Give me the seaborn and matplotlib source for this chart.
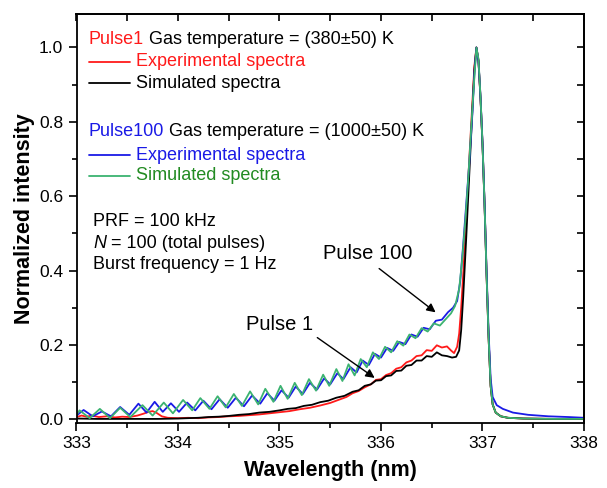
import matplotlib
matplotlib.use("Agg")
import matplotlib.pyplot as plt
import seaborn as sns
import pandas as pd
from matplotlib.ticker import MultipleLocator, NullFormatter

# ---------------- data ----------------
red_x = [333.00, 333.05, 333.10, 333.15, 333.22, 333.30, 333.38, 333.45, 333.52, 333.60,
         333.66, 333.71, 333.75, 333.79, 333.84, 333.90, 334.00, 334.10, 334.20, 334.30,
         334.40, 334.50, 334.60, 334.70, 334.80, 334.90, 335.00, 335.10, 335.20, 335.30,
         335.40, 335.50, 335.58, 335.66, 335.72, 335.78, 335.84, 335.90, 335.95, 336.00,
         336.05, 336.10, 336.15, 336.20, 336.25, 336.30, 336.35, 336.40, 336.45, 336.50,
         336.55, 336.60, 336.65, 336.69, 336.72, 336.75, 336.77, 336.79, 336.81, 336.84,
         336.87, 336.90, 336.92, 336.94, 336.96, 336.98, 337.00, 337.02, 337.04, 337.06,
         337.08, 337.10, 337.13, 337.18, 337.25, 337.40, 337.70, 338.00]
red_y = [0.006, 0.010, 0.007, 0.010, 0.006, 0.008, 0.005, 0.007, 0.006, 0.010,
         0.015, 0.020, 0.022, 0.017, 0.008, 0.004, 0.003, 0.004, 0.003, 0.005,
         0.006, 0.008, 0.009, 0.011, 0.013, 0.016, 0.019, 0.022, 0.027, 0.031,
         0.037, 0.044, 0.052, 0.060, 0.070, 0.076, 0.086, 0.094, 0.106, 0.108,
         0.119, 0.124, 0.136, 0.140, 0.153, 0.158, 0.170, 0.172, 0.186, 0.184,
         0.199, 0.193, 0.196, 0.185, 0.178, 0.195, 0.230, 0.300, 0.390, 0.540,
         0.700, 0.850, 0.950, 1.000, 0.965, 0.865, 0.740, 0.580, 0.390, 0.220,
         0.090, 0.040, 0.018, 0.008, 0.004, 0.002, 0.001, 0.001]

black_x = [333.00, 333.20, 333.40, 333.60, 333.80, 334.00, 334.10, 334.20, 334.30, 334.40,
           334.50, 334.60, 334.70, 334.80, 334.90, 335.00, 335.08, 335.16, 335.24, 335.32,
           335.40, 335.48, 335.56, 335.64, 335.72, 335.78, 335.84, 335.90, 335.95, 336.00,
           336.05, 336.10, 336.15, 336.20, 336.25, 336.30, 336.35, 336.40, 336.45, 336.50,
           336.55, 336.60, 336.65, 336.70, 336.74, 336.77, 336.79, 336.81, 336.84, 336.87,
           336.90, 336.92, 336.94, 336.96, 336.98, 337.00, 337.02, 337.04, 337.06, 337.08,
           337.10, 337.13, 337.18, 337.25, 337.40, 337.70, 338.00]
black_y = [0.002, 0.001, 0.001, 0.001, 0.001, 0.002, 0.003, 0.004, 0.006, 0.007,
           0.009, 0.012, 0.014, 0.018, 0.020, 0.024, 0.028, 0.030, 0.036, 0.039,
           0.046, 0.050, 0.058, 0.063, 0.074, 0.078, 0.090, 0.094, 0.104, 0.105,
           0.116, 0.118, 0.130, 0.131, 0.144, 0.146, 0.158, 0.158, 0.170, 0.168,
           0.180, 0.172, 0.170, 0.166, 0.168, 0.185, 0.240, 0.330, 0.490, 0.660,
           0.830, 0.940, 1.000, 0.965, 0.865, 0.740, 0.580, 0.390, 0.220, 0.090,
           0.040, 0.018, 0.008, 0.004, 0.002, 0.001, 0.001]

blue_x = [333.00, 333.07, 333.16, 333.25, 333.34, 333.43, 333.52, 333.61, 333.69, 333.77,
          333.85, 333.93, 334.01, 334.09, 334.17, 334.25, 334.33, 334.41, 334.49, 334.57,
          334.65, 334.73, 334.81, 334.88, 334.95, 335.02, 335.09, 335.16, 335.23, 335.30,
          335.37, 335.44, 335.50, 335.57, 335.63, 335.70, 335.76, 335.82, 335.88, 335.94,
          336.00, 336.06, 336.12, 336.18, 336.24, 336.30, 336.36, 336.42, 336.48, 336.54,
          336.60, 336.66, 336.71, 336.75, 336.78, 336.81, 336.84, 336.87, 336.90, 336.92,
          336.94, 336.96, 336.98, 337.00, 337.02, 337.04, 337.06, 337.08, 337.10, 337.14,
          337.20, 337.30, 337.45, 337.65, 337.85, 338.00]
blue_y = [0.010, 0.025, 0.008, 0.021, 0.008, 0.033, 0.012, 0.042, 0.018, 0.047,
          0.020, 0.043, 0.020, 0.045, 0.024, 0.050, 0.027, 0.054, 0.031, 0.058,
          0.035, 0.064, 0.042, 0.070, 0.050, 0.078, 0.058, 0.088, 0.068, 0.098,
          0.080, 0.110, 0.094, 0.124, 0.108, 0.140, 0.126, 0.158, 0.146, 0.176,
          0.166, 0.192, 0.184, 0.208, 0.202, 0.228, 0.222, 0.246, 0.242, 0.265,
          0.268, 0.288, 0.300, 0.318, 0.370, 0.470, 0.580, 0.690, 0.820, 0.930,
          1.000, 0.965, 0.870, 0.745, 0.585, 0.400, 0.235, 0.110, 0.060, 0.038,
          0.028, 0.018, 0.012, 0.008, 0.006, 0.004]

green_x = [333.00, 333.03, 333.13, 333.23, 333.33, 333.43, 333.53, 333.65, 333.75, 333.86,
           333.95, 334.05, 334.14, 334.22, 334.31, 334.39, 334.47, 334.55, 334.63, 334.71,
           334.79, 334.86, 334.94, 335.01, 335.08, 335.15, 335.22, 335.29, 335.36, 335.43,
           335.49, 335.56, 335.62, 335.68, 335.74, 335.80, 335.86, 335.92, 335.98, 336.04,
           336.10, 336.16, 336.22, 336.28, 336.34, 336.40, 336.46, 336.52, 336.58, 336.64,
           336.69, 336.73, 336.77, 336.80, 336.83, 336.86, 336.89, 336.92, 336.94, 336.96,
           336.98, 337.00, 337.02, 337.04, 337.06, 337.08, 337.10, 337.13, 337.18, 337.25,
           337.40, 337.70, 338.00]
green_y = [0.012, 0.024, 0.003, 0.028, 0.003, 0.031, 0.006, 0.038, 0.010, 0.045,
           0.016, 0.052, 0.024, 0.057, 0.028, 0.062, 0.032, 0.068, 0.036, 0.075,
           0.040, 0.082, 0.047, 0.090, 0.055, 0.098, 0.065, 0.108, 0.077, 0.120,
           0.090, 0.135, 0.103, 0.148, 0.118, 0.162, 0.140, 0.180, 0.162, 0.195,
           0.180, 0.210, 0.198, 0.228, 0.218, 0.245, 0.236, 0.258, 0.252, 0.270,
           0.285, 0.305, 0.350, 0.430, 0.530, 0.650, 0.790, 0.920, 1.000, 0.970,
           0.870, 0.740, 0.580, 0.390, 0.220, 0.090, 0.040, 0.018, 0.008, 0.004,
           0.002, 0.001, 0.001]

x_ticks = [333, 334, 335, 336, 337, 338]
y_ticks = [0.0, 0.2, 0.4, 0.6, 0.8, 1.0]

RED = "#ff1a1a"
BLUE = "#1a1ae6"
GREEN_LINE = "#3cb371"
GREEN_TEXT = "#228b22"

# ---------------- style ----------------
sns.set_style("ticks")
plt.rcParams["font.family"] = ["Liberation Sans", "DejaVu Sans"]
plt.rcParams["axes.linewidth"] = 1.3
for k in ["text.color", "axes.labelcolor", "xtick.color", "ytick.color", "axes.edgecolor"]:
    plt.rcParams[k] = "black"

fig = plt.figure(figsize=(6.07, 4.88), dpi=100)
ax = fig.add_axes([76.5 / 607, 65 / 488, 507.5 / 607, 409 / 488])

for xs, ys, c in [(red_x, red_y, RED), (black_x, black_y, "black"),
                  (blue_x, blue_y, BLUE), (green_x, green_y, GREEN_LINE)]:
    df = pd.DataFrame({"wl": xs, "I": ys})
    sns.lineplot(data=df, x="wl", y="I", color=c, lw=1.3, ax=ax,
                 estimator=None, sort=False)

ax.set_xlim(333, 338)
ax.set_ylim(-0.01, 1.09)
ax.set_xticks(x_ticks)
ax.set_yticks(y_ticks)
ax.set_xticklabels([str(t) for t in x_ticks])
ax.set_yticklabels([f"{t:.1f}" for t in y_ticks])
ax.xaxis.set_minor_locator(MultipleLocator(0.5))
ax.yaxis.set_minor_locator(MultipleLocator(0.1))
ax.tick_params(which="major", direction="out", length=6, width=1.2, labelsize=12.5,
               colors="black")
ax.tick_params(which="minor", direction="out", length=3.5, width=1.2, colors="black")
for s in ax.spines.values():
    s.set_visible(True)
    s.set_linewidth(1.3)
    s.set_color("black")

top = ax.secondary_xaxis("top")
top.set_xticks([333, 333.5, 334, 334.5, 335, 335.5, 336, 336.5, 337, 337.5, 338])
top.xaxis.set_major_formatter(NullFormatter())
top.tick_params(direction="in", length=5, width=1.2, colors="black")
right = ax.secondary_yaxis("right")
right.set_yticks([0.0, 0.1, 0.2, 0.3, 0.4, 0.5, 0.6, 0.7, 0.8, 0.9, 1.0])
right.yaxis.set_major_formatter(NullFormatter())
right.tick_params(direction="in", length=5, width=1.2, colors="black")

ax.set_xlabel("Wavelength (nm)", fontsize=15.5, fontweight="bold", labelpad=6, color="black")
ax.set_ylabel("Normalized intensity", fontsize=15.5, fontweight="bold", labelpad=3,
              color="black")

# ---------------- legend-like text block ----------------
def fx(px):
    return (px - 76.5) / 507.5

def fy(py):
    return (423 - py) / 409

FS = 13
t1 = ax.text(fx(89), fy(40), "Pulse1", color=RED, fontsize=FS,
             transform=ax.transAxes, va="center", ha="left")
ax.annotate(" Gas temperature = (380\u00b150) K", xy=(1, 0.5), xycoords=t1,
            va="center", ha="left", fontsize=FS, color="black")
ax.plot([fx(89), fx(130)], [fy(62), fy(62)], color=RED, lw=1.3, transform=ax.transAxes)
ax.text(fx(136), fy(62), "Experimental spectra", color=RED, fontsize=FS,
        transform=ax.transAxes, va="center", ha="left")
ax.plot([fx(89), fx(130)], [fy(83), fy(83)], color="black", lw=1.3, transform=ax.transAxes)
ax.text(fx(136), fy(83), "Simulated spectra", color="black", fontsize=FS,
        transform=ax.transAxes, va="center", ha="left")

t2 = ax.text(fx(89), fy(132), "Pulse100", color=BLUE, fontsize=FS,
             transform=ax.transAxes, va="center", ha="left")
ax.annotate(" Gas temperature = (1000\u00b150) K", xy=(1, 0.5), xycoords=t2,
            va="center", ha="left", fontsize=FS, color="black")
ax.plot([fx(89), fx(130)], [fy(155), fy(155)], color=BLUE, lw=1.3, transform=ax.transAxes)
ax.text(fx(136), fy(155), "Experimental spectra", color=BLUE, fontsize=FS,
        transform=ax.transAxes, va="center", ha="left")
ax.plot([fx(89), fx(130)], [fy(176), fy(176)], color=GREEN_LINE, lw=1.3, transform=ax.transAxes)
ax.text(fx(136), fy(176), "Simulated spectra", color=GREEN_TEXT, fontsize=FS,
        transform=ax.transAxes, va="center", ha="left")

ax.text(fx(93), fy(221.5), "PRF = 100 kHz", fontsize=FS, transform=ax.transAxes,
        va="center", ha="left", color="black")
tn = ax.text(fx(93), fy(243), "N", fontsize=FS, style="italic", transform=ax.transAxes,
             va="center", ha="left", color="black")
ax.annotate(" = 100 (total pulses)", xy=(1, 0.5), xycoords=tn, va="center", ha="left",
            fontsize=FS, color="black")
ax.text(fx(93), fy(264.5), "Burst frequency = 1 Hz", fontsize=FS, transform=ax.transAxes,
        va="center", ha="left", color="black")

# ---------------- annotations ----------------
ax.text(335.0, 0.254, "Pulse 1", fontsize=14.5, ha="center", va="center", color="black")
ax.annotate("", xy=(335.96, 0.107), xytext=(335.35, 0.224),
            arrowprops=dict(arrowstyle="-|>", color="black", lw=1.0, mutation_scale=13))
ax.text(335.87, 0.447, "Pulse 100", fontsize=14.5, ha="center", va="center", color="black")
ax.annotate("", xy=(336.56, 0.283), xytext=(335.96, 0.41),
            arrowprops=dict(arrowstyle="-|>", color="black", lw=1.0, mutation_scale=13))

fig.savefig("out.png", dpi=100)
